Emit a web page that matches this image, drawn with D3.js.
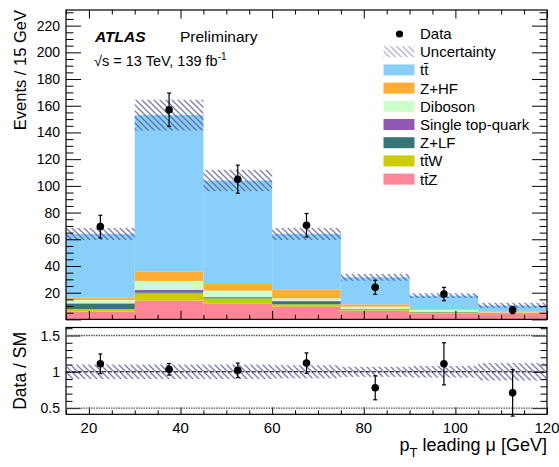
<!DOCTYPE html>
<html>
<head>
<meta charset="utf-8">
<script src="https://cdn.jsdelivr.net/npm/d3@7"></script>
<style>
  body { margin: 0; background: #fff; }
  svg text { font-family: 'Liberation Sans', Arial, sans-serif; fill: #000; }
</style>
</head>
<body>
<div id="vis"></div>
<script>
// bins in pT of the leading muon [GeV]
const binEdges = [15, 30, 45, 60, 75, 90, 105, 120];

// stacked backgrounds, events per bin (bottom of the stack first)
const ttZ = [6.0, 14.0, 12.0, 9.5, 6.5, 4.6, 4.0];
const ttW = [1.7, 5.5, 3.7, 1.8, 0.6, 0.6, 0.6];
const zlf = [4.0, 0.8, 0.6, 1.8, 0.4, 0.3, 0.2];
const singleTop = [0.4, 1.7, 0.5, 0.7, 0.2, 0.2, 0.1];
const diboson = [2.5, 6.8, 4.7, 2.0, 1.8, 1.3, 0.3];
const zhf = [1.7, 7.2, 5.0, 6.7, 1.8, 0.5, 0.5];
const ttbar = [47.7, 117.0, 77.5, 41.5, 20.2, 10.3, 4.8];

// total prediction uncertainty (+-)
const mcUnc = [4.5, 11.5, 8.0, 4.5, 2.5, 1.8, 2.0];

// data
const dataVals = [69.5, 157, 105, 70.5, 24, 19, 7];
const dataErr = [8.5, 12.5, 10.5, 8.8, 5.3, 5.0, 2.7];

// ratio panel
const ratioVals = [1.11, 1.035, 1.02, 1.12, 0.78, 1.11, 0.71];
const ratioErr = [0.135, 0.08, 0.1, 0.14, 0.165, 0.29, 0.32];
const ratioUnc = [0.1, 0.1, 0.1, 0.09, 0.07, 0.08, 0.12];

const mainYTicks = [20, 40, 60, 80, 100, 120, 140, 160, 180, 200, 220];
const ratioYTicks = [0.5, 1, 1.5];
const xTicks = [20, 40, 60, 80, 100, 120];

const colors = {
  ttZ: '#ff8599',
  ttW: '#cccc00',
  zlf: '#367677',
  singleTop: '#9158b4',
  diboson: '#ccffcc',
  zhf: '#ffad33',
  ttbar: '#88cffa'
};
const hatchColor = '#4c4c9c';

const width = 559;
const height = 467;
const left = 66;
const right = 547;
const main = { top: 10, bottom: 319.4 };
const ratio = { top: 327.5, bottom: 414.3 };

const svg = d3
  .select('#vis')
  .append('svg')
  .attr('width', width)
  .attr('height', height);

const defs = svg.append('defs');
const hatch = defs
  .append('pattern')
  .attr('id', 'hatch')
  .attr('patternUnits', 'userSpaceOnUse')
  .attr('width', 6)
  .attr('height', 6);
hatch
  .append('path')
  .attr('d', 'M0,0 L6,6 M-3,3 L3,9 M3,-3 L9,3')
  .attr('stroke', hatchColor)
  .attr('stroke-opacity', 0.75)
  .attr('stroke-width', 1.3);

const x = d3.scaleLinear().domain([15, 120]).range([left, right]);
const y = d3.scaleLinear().domain([0, 231.7]).range([main.bottom, main.top]);
const yr = d3
  .scaleLinear()
  .domain([0.415, 1.61])
  .range([ratio.bottom, ratio.top]);

const rows = binEdges.slice(0, -1).map((lo, i) => ({
  lo,
  hi: binEdges[i + 1],
  ttZ: ttZ[i],
  ttW: ttW[i],
  zlf: zlf[i],
  singleTop: singleTop[i],
  diboson: diboson[i],
  zhf: zhf[i],
  ttbar: ttbar[i]
}));
const keys = ['ttZ', 'ttW', 'zlf', 'singleTop', 'diboson', 'zhf', 'ttbar'];
const stacked = d3.stack().keys(keys)(rows);
const totals = rows.map(r => d3.sum(keys, k => r[k]));
const centers = rows.map(r => (r.lo + r.hi) / 2);

// ---- main panel ----
const mainG = svg.append('g');

mainG
  .selectAll('g.layer')
  .data(stacked)
  .join('g')
  .attr('class', 'layer')
  .attr('fill', d => colors[d.key])
  .selectAll('rect')
  .data(d => d)
  .join('rect')
  .attr('x', d => x(d.data.lo))
  .attr('width', d => x(d.data.hi) - x(d.data.lo))
  .attr('y', d => y(d[1]))
  .attr('height', d => y(d[0]) - y(d[1]));

mainG
  .selectAll('rect.unc')
  .data(rows)
  .join('rect')
  .attr('class', 'unc')
  .attr('fill', 'url(#hatch)')
  .attr('x', d => x(d.lo))
  .attr('width', d => x(d.hi) - x(d.lo))
  .attr('y', (d, i) => y(totals[i] + mcUnc[i]))
  .attr('height', (d, i) => y(totals[i] - mcUnc[i]) - y(totals[i] + mcUnc[i]));

function drawPoints(g, ys, vals, errs) {
  const pts = g
    .selectAll('g.pt')
    .data(vals)
    .join('g')
    .attr('class', 'pt');
  pts
    .append('line')
    .attr('x1', (d, i) => x(centers[i]))
    .attr('x2', (d, i) => x(centers[i]))
    .attr('y1', (d, i) => ys(d + errs[i]))
    .attr('y2', (d, i) => ys(d - errs[i]))
    .attr('stroke', '#000')
    .attr('stroke-width', 1.2);
  for (const sign of [1, -1]) {
    pts
      .append('line')
      .attr('x1', (d, i) => x(centers[i]) - 2)
      .attr('x2', (d, i) => x(centers[i]) + 2)
      .attr('y1', (d, i) => ys(d + sign * errs[i]))
      .attr('y2', (d, i) => ys(d + sign * errs[i]))
      .attr('stroke', '#000')
      .attr('stroke-width', 1.2);
  }
  pts
    .append('circle')
    .attr('cx', (d, i) => x(centers[i]))
    .attr('cy', d => ys(d))
    .attr('r', 3.8)
    .attr('fill', '#000');
}

drawPoints(mainG, y, dataVals, dataErr);

// axes with inward ticks, ROOT style
function inwardTicks(g, axis, scale, values, size, translate) {
  g.append('g')
    .attr('transform', translate)
    .call(axis(scale).tickValues(values).tickSize(size).tickFormat(''))
    .call(a => a.select('.domain').remove())
    .call(a => a.selectAll('line').attr('stroke', '#000').attr('stroke-width', 1));
}

const xMinor = d3.range(15, 121, 5).filter(v => v % 20 !== 0);
const mainYMinor = d3.range(5, 231, 5).filter(v => v % 20 !== 0);
const ratioYMinor = d3.range(0.5, 1.61, 0.1).map(v => +v.toFixed(1)).filter(v => v !== 0.5 && v !== 1 && v !== 1.5);

const axesG = svg.append('g');
// main panel
inwardTicks(axesG, d3.axisBottom, x, xTicks, -8.5, `translate(0,${main.bottom})`);
inwardTicks(axesG, d3.axisBottom, x, xMinor, -4.5, `translate(0,${main.bottom})`);
inwardTicks(axesG, d3.axisTop, x, xTicks, -8.5, `translate(0,${main.top})`);
inwardTicks(axesG, d3.axisTop, x, xMinor, -4.5, `translate(0,${main.top})`);
inwardTicks(axesG, d3.axisLeft, y, [0, ...mainYTicks], -15, `translate(${left},0)`);
inwardTicks(axesG, d3.axisLeft, y, mainYMinor, -7.5, `translate(${left},0)`);
inwardTicks(axesG, d3.axisRight, y, [0, ...mainYTicks], -15, `translate(${right},0)`);
inwardTicks(axesG, d3.axisRight, y, mainYMinor, -7.5, `translate(${right},0)`);

axesG
  .append('g')
  .attr('transform', `translate(${left - 6},0)`)
  .selectAll('text')
  .data(mainYTicks)
  .join('text')
  .attr('y', d => y(d))
  .attr('dy', '0.36em')
  .attr('text-anchor', 'end')
  .attr('font-size', 14)
  .text(d => d);

axesG
  .append('rect')
  .attr('x', left)
  .attr('y', main.top)
  .attr('width', right - left)
  .attr('height', main.bottom - main.top)
  .attr('fill', 'none')
  .attr('stroke', '#000')
  .attr('stroke-width', 1.2);

// ---- ratio panel ----
const ratioG = svg.append('g');

ratioG
  .selectAll('rect.unc')
  .data(rows)
  .join('rect')
  .attr('fill', 'url(#hatch)')
  .attr('x', d => x(d.lo))
  .attr('width', d => x(d.hi) - x(d.lo))
  .attr('y', (d, i) => yr(1 + ratioUnc[i]))
  .attr('height', (d, i) => yr(1 - ratioUnc[i]) - yr(1 + ratioUnc[i]));

for (const v of [0.5, 1.5]) {
  ratioG
    .append('line')
    .attr('x1', left)
    .attr('x2', right)
    .attr('y1', yr(v))
    .attr('y2', yr(v))
    .attr('stroke', '#555')
    .attr('stroke-width', 1.3)
    .attr('stroke-dasharray', '1.5,1');
}
ratioG
  .append('line')
  .attr('x1', left)
  .attr('x2', right)
  .attr('y1', yr(1))
  .attr('y2', yr(1))
  .attr('stroke', '#000')
  .attr('stroke-width', 1)
  .attr('stroke-dasharray', '4,2');

drawPoints(ratioG, yr, ratioVals, ratioErr);

inwardTicks(axesG, d3.axisBottom, x, xTicks, -7, `translate(0,${ratio.bottom})`);
inwardTicks(axesG, d3.axisBottom, x, xMinor, -4, `translate(0,${ratio.bottom})`);
inwardTicks(axesG, d3.axisLeft, yr, ratioYTicks, -14.5, `translate(${left},0)`);
inwardTicks(axesG, d3.axisLeft, yr, ratioYMinor, -6.5, `translate(${left},0)`);
inwardTicks(axesG, d3.axisRight, yr, ratioYTicks, -14.5, `translate(${right},0)`);
inwardTicks(axesG, d3.axisRight, yr, ratioYMinor, -6.5, `translate(${right},0)`);

axesG
  .append('g')
  .attr('transform', `translate(${left - 6},0)`)
  .selectAll('text')
  .data(ratioYTicks)
  .join('text')
  .attr('y', d => yr(d))
  .attr('dy', '0.36em')
  .attr('text-anchor', 'end')
  .attr('font-size', 14)
  .text(d => d);

axesG
  .append('g')
  .selectAll('text')
  .data(xTicks)
  .join('text')
  .attr('x', d => x(d))
  .attr('y', 433)
  .attr('text-anchor', 'middle')
  .attr('font-size', 15)
  .text(d => d);

axesG
  .append('rect')
  .attr('x', left)
  .attr('y', ratio.top)
  .attr('width', right - left)
  .attr('height', ratio.bottom - ratio.top)
  .attr('fill', 'none')
  .attr('stroke', '#000')
  .attr('stroke-width', 1.2);

// ---- titles ----
const xTitle = svg
  .append('text')
  .attr('x', right)
  .attr('y', 451)
  .attr('text-anchor', 'end')
  .attr('font-size', 18);
xTitle.append('tspan').text('p');
xTitle.append('tspan').attr('font-size', 13).attr('dy', 6).text('T');
xTitle.append('tspan').attr('dy', -6).text(' leading μ [GeV]');

svg
  .append('text')
  .attr('transform', 'translate(26,10) rotate(-90)')
  .attr('text-anchor', 'end')
  .attr('font-size', 16.5)
  .text('Events / 15 GeV');

svg
  .append('text')
  .attr('transform', `translate(26,${(ratio.top + ratio.bottom) / 2}) rotate(-90)`)
  .attr('text-anchor', 'middle')
  .attr('font-size', 17.5)
  .text('Data / SM');

svg
  .append('text')
  .attr('x', 95)
  .attr('y', 42)
  .attr('font-size', 15.5)
  .attr('font-weight', 'bold')
  .attr('font-style', 'italic')
  .text('ATLAS');
svg
  .append('text')
  .attr('x', 180)
  .attr('y', 42)
  .attr('font-size', 15.5)
  .text('Preliminary');
const lumi = svg
  .append('text')
  .attr('x', 94)
  .attr('y', 66)
  .attr('font-size', 14.5);
lumi.append('tspan').text('√s = 13 TeV, 139 fb');
lumi.append('tspan').attr('font-size', 10).attr('dy', -6).text('-1');

// ---- legend ----
const legendItems = [
  { label: ['Data'], type: 'data' },
  { label: ['Uncertainty'], type: 'unc' },
  { label: ['t', 't̄'], key: 'ttbar' },
  { label: ['Z+HF'], key: 'zhf' },
  { label: ['Diboson'], key: 'diboson' },
  { label: ['Single top-quark'], key: 'singleTop' },
  { label: ['Z+LF'], key: 'zlf' },
  { label: ['t', 't̄', 'W'], key: 'ttW' },
  { label: ['t', 't̄', 'Z'], key: 'ttZ' }
];

const legend = svg.append('g');
const item = legend
  .selectAll('g')
  .data(legendItems)
  .join('g')
  .attr('transform', (d, i) => `translate(0,${33.5 + i * 18.2})`);

item
  .filter(d => d.key)
  .append('rect')
  .attr('x', 383.5)
  .attr('y', -5.5)
  .attr('width', 31)
  .attr('height', 11)
  .attr('fill', d => colors[d.key]);

item
  .filter(d => d.type === 'unc')
  .append('rect')
  .attr('x', 383.5)
  .attr('y', -5.5)
  .attr('width', 31)
  .attr('height', 11)
  .attr('fill', 'url(#hatch)')
  .attr('opacity', 0.6);

item
  .filter(d => d.type === 'data')
  .append('circle')
  .attr('cx', 399.5)
  .attr('cy', 0.5)
  .attr('r', 3.6)
  .attr('fill', '#000');

item
  .append('text')
  .attr('x', 420)
  .attr('dy', '0.36em')
  .attr('font-size', 15)
  .selectAll('tspan')
  .data(d => d.label)
  .join('tspan')
  .text(d => d);
</script>
</body>
</html>
